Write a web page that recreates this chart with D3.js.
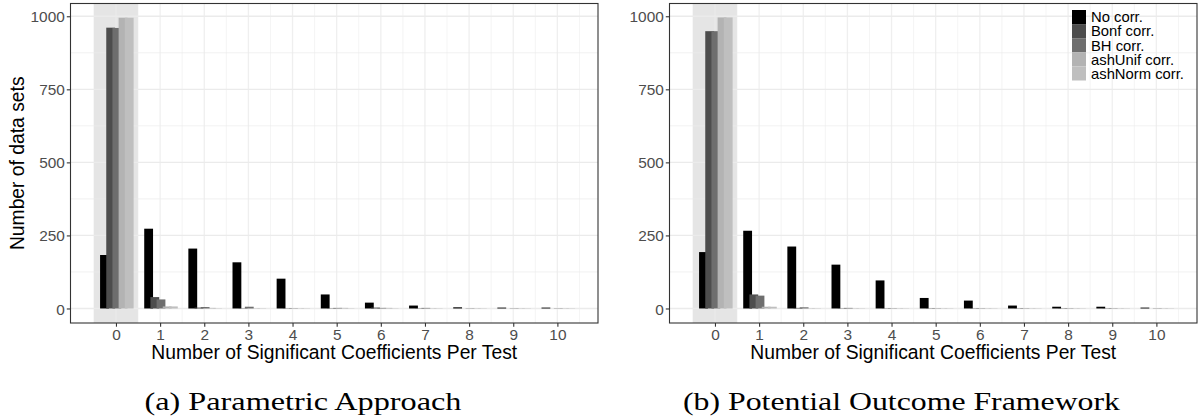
<!DOCTYPE html>
<html>
<head>
<meta charset="utf-8">
<script src="https://cdn.jsdelivr.net/npm/d3@7"></script>
<style>
  body { margin: 0; background: #fff; }
  svg text { font-family: "Liberation Sans", Arial, sans-serif; }
  .caption { font-family: "Liberation Serif", serif; }
</style>
</head>
<body>
<svg id="chart" width="1198" height="419"></svg>
<script>
const counts = d3.range(0, 11);
const methods = ["No corr.", "Bonf corr.", "BH corr.", "ashUnif corr.", "ashNorm corr."];
const fills = ["#000000", "#4d4d4d", "#6e6e6e", "#b3b3b3", "#bfbfbf"];
const yTicks = [0, 250, 500, 750, 1000];

// number of data sets per count, one array per method
const paramValues = [
  [183, 273, 205, 158, 102, 48, 20, 10, 4, 3, 3],
  [961, 39, 3, 1, 1, 1, 3, 1, 0, 0, 0],
  [960, 31, 5, 6, 1, 2, 2, 2, 1, 1, 1],
  [995, 7, 2, 1, 1, 2, 2, 1, 1, 1, 1],
  [995, 7, 1, 1, 1, 1, 1, 1, 1, 1, 1]
];
const potentialValues = [
  [193, 266, 212, 150, 96, 36, 27, 10, 6, 6, 3],
  [949, 48, 2, 1, 1, 1, 1, 1, 1, 1, 0],
  [949, 44, 4, 2, 1, 1, 1, 1, 1, 1, 1],
  [996, 6, 1, 1, 1, 1, 1, 1, 1, 1, 1],
  [996, 6, 1, 1, 1, 1, 1, 1, 1, 1, 1]
];

const svg = d3.select("#chart");

const panelTop = 3.5, panelBottom = 323;

function addPlot(left, right, values, opts) {
  const x = d3.scaleLinear().domain([-1.03, 10.92]).range([left, right]);
  const y = d3.scaleLinear().domain([-49.7, 1043.7]).range([panelBottom, panelTop]);
  const unit = x(1) - x(0);

  const g = svg.append("g");

  // highlighted band around 0
  g.append("rect")
    .attr("x", x(-0.5)).attr("width", x(0.5) - x(-0.5))
    .attr("y", panelTop).attr("height", panelBottom - panelTop)
    .attr("fill", "#e5e5e5");

  // grid
  const xMinor = d3.range(-0.5, 11, 1);
  const yMinor = [125, 375, 625, 875];
  g.append("g").selectAll("line").data(xMinor).join("line")
    .attr("x1", d => x(d)).attr("x2", d => x(d))
    .attr("y1", panelTop).attr("y2", panelBottom)
    .attr("stroke", "#ebebeb").attr("stroke-width", 0.7).attr("stroke-opacity", 0.8);
  g.append("g").selectAll("line").data(yMinor).join("line")
    .attr("x1", left).attr("x2", right)
    .attr("y1", d => y(d)).attr("y2", d => y(d))
    .attr("stroke", "#ebebeb").attr("stroke-width", 0.7);
  g.append("g").selectAll("line").data(counts).join("line")
    .attr("x1", d => x(d)).attr("x2", d => x(d))
    .attr("y1", panelTop).attr("y2", panelBottom)
    .attr("stroke", "#ebebeb").attr("stroke-width", 1.3).attr("stroke-opacity", 0.8);
  g.append("g").selectAll("line").data(yTicks).join("line")
    .attr("x1", left).attr("x2", right)
    .attr("y1", d => y(d)).attr("y2", d => y(d))
    .attr("stroke", "#ebebeb").attr("stroke-width", 1.3);

  // bars, dodged with overlap, later methods drawn on top
  const barW = 0.2, step = 0.14, shift = 0.02;
  methods.forEach((m, i) => {
    g.append("g").selectAll("rect").data(values[i]).join("rect")
      .attr("x", (d, k) => x(counts[k] + (i - 2) * step + shift - barW / 2))
      .attr("width", barW * unit)
      .attr("y", d => y(d))
      .attr("height", d => y(0) - y(d))
      .attr("fill", fills[i]);
  });

  // border
  g.append("rect")
    .attr("x", left).attr("y", panelTop)
    .attr("width", right - left).attr("height", panelBottom - panelTop)
    .attr("fill", "none").attr("stroke", "#333333").attr("stroke-width", 1.1);

  // axes
  const xAxis = d3.axisBottom(x).tickValues(counts).tickSize(3.7).tickPadding(2);
  const yAxis = d3.axisLeft(y).tickValues(yTicks).tickSize(3.7).tickPadding(2).tickFormat(d3.format("d"));
  const gx = svg.append("g").attr("transform", `translate(0,${panelBottom})`).call(xAxis);
  const gy = svg.append("g").attr("transform", `translate(${left},0)`).call(yAxis);
  [gx, gy].forEach(a => {
    a.select(".domain").remove();
    a.selectAll(".tick line").attr("stroke", "#333333").attr("stroke-width", 1.1);
    a.selectAll(".tick text").attr("fill", "#4d4d4d")
      .style("font-size", "15.4px").style("font-family", "Liberation Sans, Arial, sans-serif");
  });
  gy.selectAll(".tick text").attr("dy", "0.36em");

  svg.append("text")
    .attr("x", (left + right) / 2).attr("y", 359)
    .attr("text-anchor", "middle")
    .style("font-size", "19.3px")
    .text("Number of Significant Coefficients Per Test");

  if (opts.yTitle) {
    svg.append("text")
      .attr("transform", `translate(24,${(panelTop + panelBottom) / 2}) rotate(-90)`)
      .attr("text-anchor", "middle")
      .style("font-size", "19.3px")
      .text("Number of data sets");
  }

  svg.append("text")
    .attr("class", "caption")
    .attr("x", opts.capX).attr("y", 410)
    .attr("text-anchor", "middle")
    .attr("textLength", opts.capW)
    .attr("lengthAdjust", "spacingAndGlyphs")
    .style("font-size", "26px")
    .text(opts.caption);

  if (opts.legend) {
    const lg = svg.append("g").attr("transform", "translate(1072,10)");
    const keyH = 14.1;
    lg.selectAll("rect").data(methods).join("rect")
      .attr("x", 0).attr("y", (d, i) => i * keyH)
      .attr("width", 14).attr("height", keyH)
      .attr("fill", (d, i) => fills[i]);
    lg.selectAll("text").data(methods).join("text")
      .attr("x", 19).attr("y", (d, i) => i * keyH + keyH / 2)
      .attr("dy", "0.36em")
      .style("font-size", "14.8px")
      .text(d => d);
  }
}

addPlot(70.5, 598, paramValues, {yTitle: true, caption: "(a) Parametric Approach", capX: 303, capW: 317});
addPlot(669.5, 1197, potentialValues, {legend: true, caption: "(b) Potential Outcome Framework", capX: 901.5, capW: 437});
</script>
</body>
</html>
